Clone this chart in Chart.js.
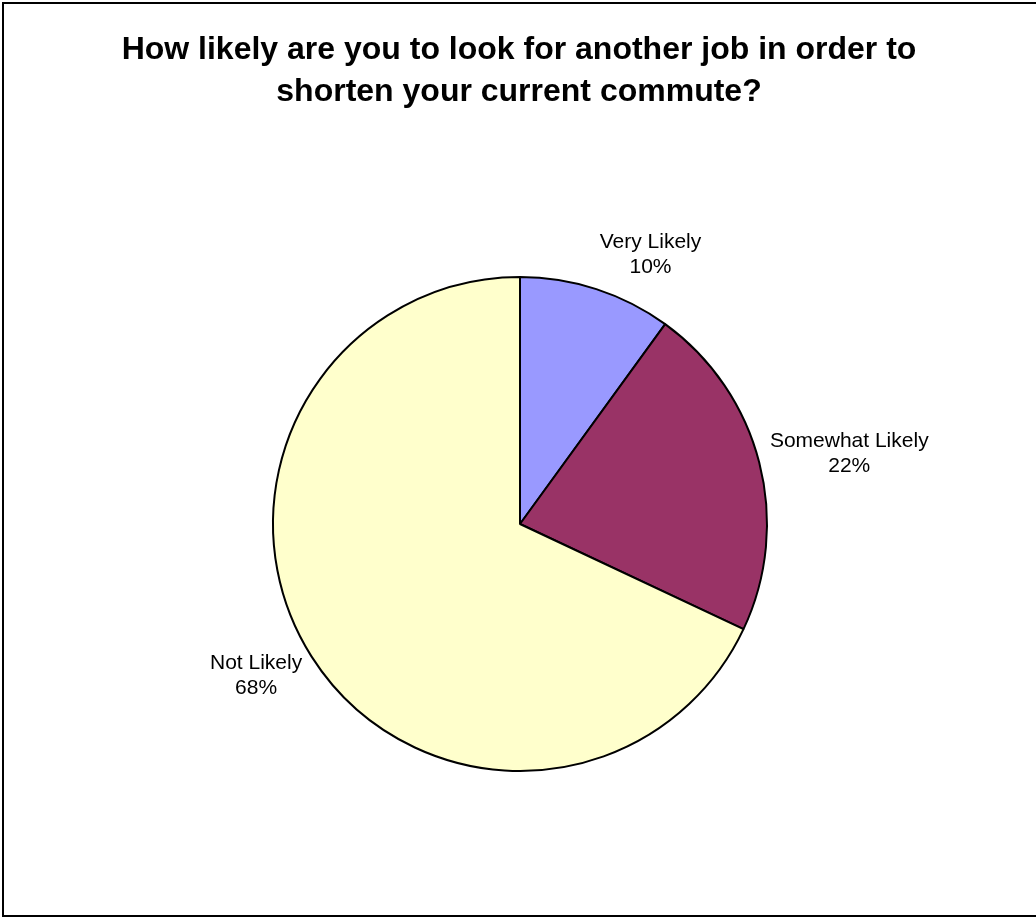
<!DOCTYPE html>
<html>
<head>
<meta charset="utf-8">
<script src="https://cdn.jsdelivr.net/npm/chart.js@4.4.0/dist/chart.umd.min.js"></script>
<style>
  html, body { margin: 0; padding: 0; background: #fff; }
  #commuteChart { display: block; }
</style>
</head>
<body>
<canvas id="commuteChart" width="1036" height="918"></canvas>
<script>
const titleLines = ['How likely are you to look for another job in order to', 'shorten your current commute?'];
const answers = ['Very Likely', 'Somewhat Likely', 'Not Likely'];
const shares = [10, 22, 68];
const sliceColors = ['#9999FF', '#993366', '#FFFFCC'];

// frame + title drawn on the canvas, the way the spreadsheet exported it
const frameAndTitle = {
    id: 'frameAndTitle',
    beforeDraw: (chart) => {
        const { ctx, width } = chart;
        ctx.save();
        ctx.fillStyle = '#fff';
        ctx.fillRect(0, 0, chart.width, chart.height);
        ctx.strokeStyle = '#000';
        ctx.lineWidth = 2;
        ctx.strokeRect(3, 3, width + 10, 913);
        ctx.fillStyle = '#000';
        ctx.font = 'bold 32px "Liberation Sans", Arial, sans-serif';
        ctx.textAlign = 'center';
        ctx.textBaseline = 'alphabetic';
        titleLines.forEach((line, i) => {
            ctx.fillText(line, 519, 59 + i * 42);
        });
        ctx.restore();
    }
};

// category name + percentage outside each slice
const sliceLabels = {
    id: 'sliceLabels',
    afterDatasetsDraw: (chart) => {
        const { ctx } = chart;
        const arcs = chart.getDatasetMeta(0).data;
        const total = shares.reduce((a, b) => a + b, 0);
        ctx.save();
        ctx.font = '21px "Liberation Sans", Arial, sans-serif';
        ctx.fillStyle = '#000';
        ctx.textAlign = 'center';
        ctx.textBaseline = 'middle';
        arcs.forEach((arc, i) => {
            const mid = (arc.startAngle + arc.endAngle) / 2;
            const dx = Math.cos(mid);
            const dy = Math.sin(mid);
            const pct = Math.round(shares[i] / total * 100) + '%';
            const w = Math.max(ctx.measureText(answers[i]).width, ctx.measureText(pct).width);
            const h = 50;
            const reach = arc.outerRadius + 11;
            const cx = arc.x + reach * dx + Math.sign(dx) * w / 2;
            const cy = arc.y + reach * dy + dy * h / 2;
            ctx.fillText(answers[i], cx, cy - 12.5);
            ctx.fillText(pct, cx, cy + 12.5);
        });
        ctx.restore();
    }
};

new Chart(document.getElementById('commuteChart'), {
    type: 'pie',
    data: {
        labels: answers,
        datasets: [{
            data: shares,
            backgroundColor: sliceColors,
            borderColor: '#000',
            borderWidth: 2
        }]
    },
    plugins: [frameAndTitle, sliceLabels],
    options: {
        responsive: false,
        animation: false,
        layout: {
            padding: { left: 272, right: 268, top: 276, bottom: 146 }
        },
        plugins: {
            legend: { display: false },
            title: { display: false },
            tooltip: { enabled: false }
        }
    }
});
</script>
</body>
</html>
